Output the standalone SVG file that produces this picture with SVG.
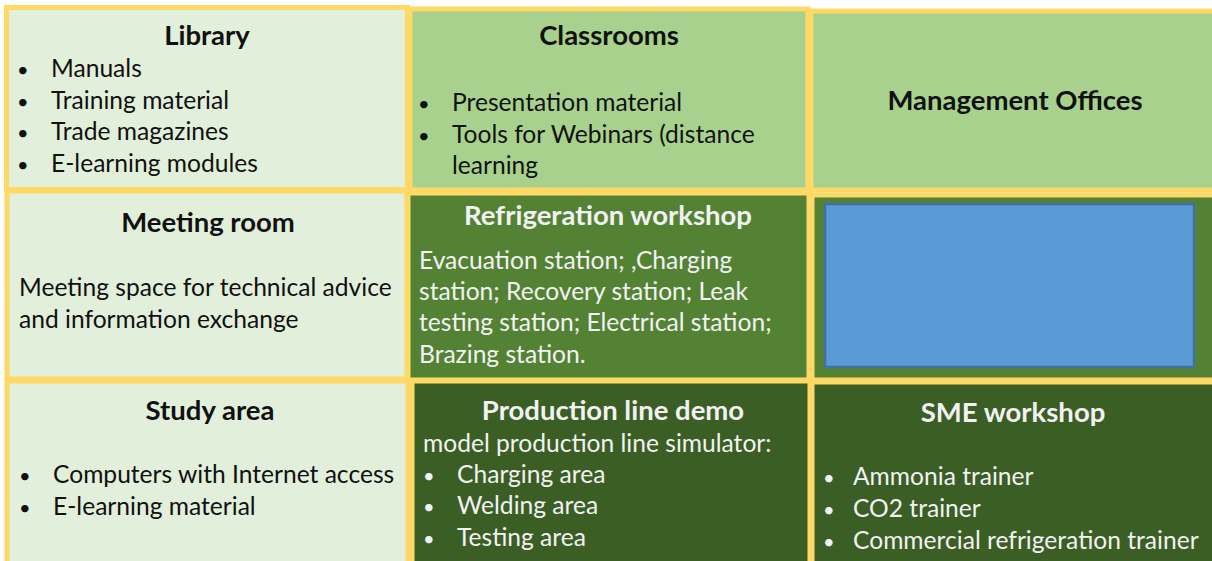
<svg xmlns="http://www.w3.org/2000/svg" width="1212" height="561" viewBox="0 0 1212 561">
<style>
.cell{stroke:#FFD966;stroke-width:5}
.lt{fill:#E2EFDA}
.md{fill:#A9D18E}
.dk{fill:#548235}
.dd{fill:#3B5E25}
text{font-family:Lato,"Liberation Sans",sans-serif;font-size:24.6px}
.t{font-weight:bold;text-anchor:middle;font-size:27.5px}
.bu{font-size:20px}
.b{fill:#111}
.w{fill:#F2F2F2}
</style>
<rect width="1212" height="561" fill="#FFFFFF"/>
<g id="library">
<rect class="cell lt" x="6.5" y="7.5" width="401" height="182"/>
<text class="t b" x="207" y="45">Library</text>
<text class="b bu" x="17" y="77">•</text><text class="b" x="51" y="77">Manuals</text>
<text class="b bu" x="17" y="109">•</text><text class="b" x="51" y="109">Training material</text>
<text class="b bu" x="17" y="140">•</text><text class="b" x="51" y="140">Trade magazines</text>
<text class="b bu" x="17" y="172">•</text><text class="b" x="51" y="172">E-learning modules</text>
</g>
<g id="classrooms">
<rect class="cell md" x="410" y="9" width="398" height="181"/>
<text class="t b" x="609" y="45">Classrooms</text>
<text class="b bu" x="418" y="111">•</text><text class="b" x="452" y="111">Presentation material</text>
<text class="b bu" x="418" y="143">•</text><text class="b" x="452" y="143">Tools for Webinars (distance</text>
<text class="b" x="452" y="174">learning</text>
</g>
<g id="management">
<rect class="cell md" x="811" y="11" width="406" height="179"/>
<text class="t b" x="1015" y="110">Management Offices</text>
</g>
<g id="meeting">
<rect class="cell lt" x="7" y="191" width="400" height="188"/>
<text class="t b" x="208" y="232">Meeting room</text>
<text class="b" x="19" y="296">Meeting space for technical advice</text>
<text class="b" x="19" y="328">and information exchange</text>
</g>
<g id="refrigeration">
<rect class="cell dk" x="408" y="193" width="401" height="187"/>
<text class="t w" x="608" y="225">Refrigeration workshop</text>
<text class="w" x="419" y="269">Evacuation station; ,Charging</text>
<text class="w" x="419" y="300">station; Recovery station; Leak</text>
<text class="w" x="419" y="331">testing station; Electrical station;</text>
<text class="w" x="419" y="363">Brazing station.</text>
</g>
<g id="blank">
<rect class="cell dk" x="812" y="195" width="405" height="185"/>
<rect x="825" y="204" width="369" height="163" fill="#5B9BD5" stroke="#41719C" stroke-width="2.5"/>
</g>
<g id="study">
<rect class="cell lt" x="7" y="381" width="401" height="185"/>
<text class="t b" x="210" y="420">Study area</text>
<text class="b bu" x="19" y="483">•</text><text class="b" x="53" y="483">Computers with Internet access</text>
<text class="b bu" x="19" y="515">•</text><text class="b" x="53" y="515">E-learning material</text>
</g>
<g id="production">
<rect class="cell dd" x="412" y="381" width="398" height="185"/>
<text class="t w" x="613" y="420">Production line demo</text>
<text class="w" x="423" y="452">model production line simulator:</text>
<text class="w bu" x="423" y="483">•</text><text class="w" x="457" y="483">Charging area</text>
<text class="w bu" x="423" y="514">•</text><text class="w" x="457" y="514">Welding area</text>
<text class="w bu" x="423" y="546">•</text><text class="w" x="457" y="546">Testing area</text>
</g>
<g id="sme">
<rect class="cell dd" x="812" y="382" width="405" height="184"/>
<text class="t w" x="1013" y="422">SME workshop</text>
<text class="w bu" x="823" y="485">•</text><text class="w" x="853" y="485">Ammonia trainer</text>
<text class="w bu" x="823" y="517">•</text><text class="w" x="853" y="517">CO2 trainer</text>
<text class="w bu" x="823" y="549">•</text><text class="w" x="853" y="549">Commercial refrigeration trainer</text>
</g>
<g id="connectors"/>
</svg>
